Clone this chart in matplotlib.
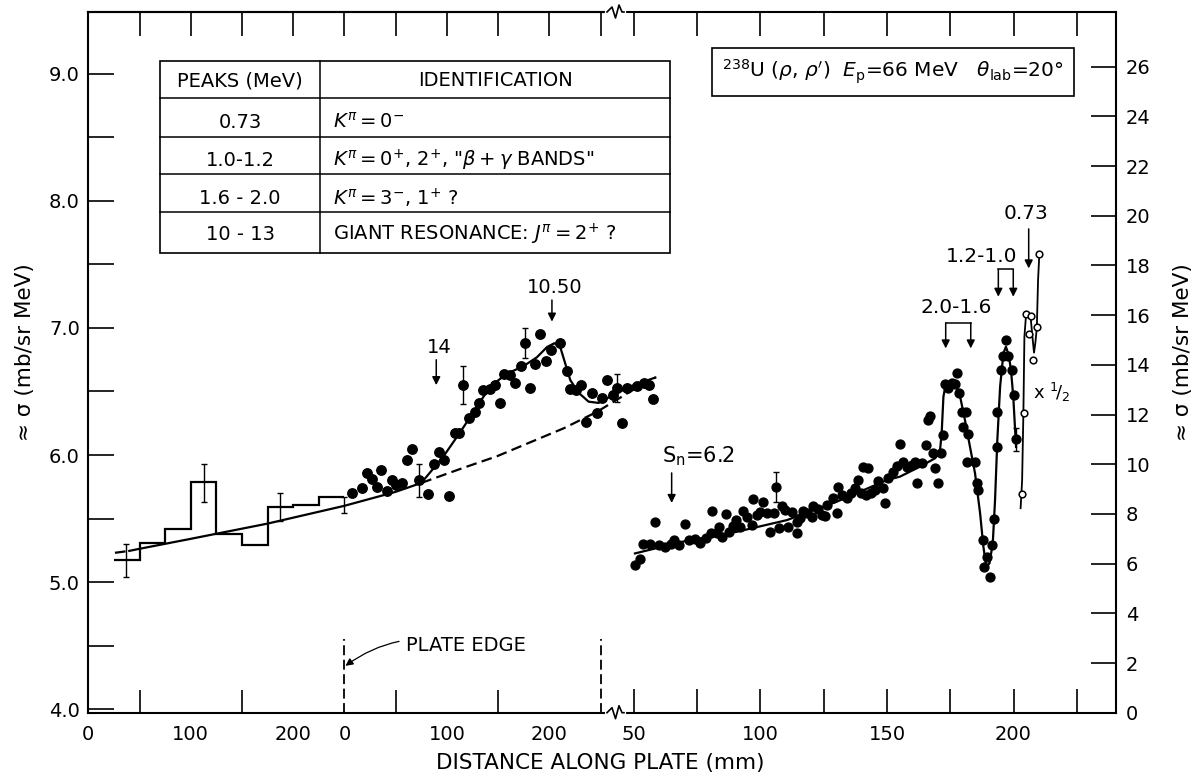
import matplotlib
matplotlib.use("Agg")
import matplotlib.pyplot as plt
from matplotlib.lines import Line2D
from matplotlib.patches import Rectangle

plt.rcParams["font.family"] = ["DejaVu Sans"]
plt.rcParams["mathtext.fontset"] = "dejavusans"

# ---------------- data ----------------
# left part: first plate (histogram) and second plate (dots), left axis units
hist_edges = [25, 50, 75, 100, 125, 150, 175, 200, 225, 250]
hist_vals = [5.17, 5.31, 5.42, 5.79, 5.38, 5.29, 5.59, 5.61, 5.67]
hist_err_x = [37.2, 112.8, 187.0, 250.0]
hist_err_y = [5.17, 5.78, 5.59, 5.605]
hist_err = [0.13, 0.15, 0.11, 0.065]

left_x = [257.2, 267.6, 271.9, 277.3, 281.6, 285.8, 292.0, 296.3, 300.5, 306.1,
          311.5, 316.4, 323.2, 332.0, 337.6, 341.8, 346.7, 351.6, 358.1, 362.0,
          365.6, 371.8, 377.0, 381.8, 385.7, 391.6, 397.2, 401.4, 406.0, 411.8,
          416.7, 422.6, 426.5, 431.3, 436.2, 441.1, 447.0, 451.6, 460.6, 467.2,
          470.4, 476.3, 480.9, 486.0, 491.6, 496.5, 501.4, 506.3, 512.1, 516.0,
          520.9, 525.8, 535.5, 542.0, 546.9, 551.2]
left_y = [5.70, 5.74, 5.86, 5.81, 5.75, 5.88, 5.72, 5.80, 5.76, 5.78,
          5.96, 6.05, 5.80, 5.69, 5.93, 6.02, 5.96, 5.68, 6.17, 6.17,
          6.55, 6.29, 6.34, 6.41, 6.51, 6.52, 6.55, 6.41, 6.64, 6.63,
          6.57, 6.70, 6.88, 6.53, 6.72, 6.95, 6.74, 6.83, 6.88, 6.66,
          6.52, 6.51, 6.55, 6.26, 6.49, 6.33, 6.45, 6.59, 6.47, 6.53,
          6.25, 6.53, 6.54, 6.57, 6.55, 6.44]
left_err_x = [323.2, 365.6, 426.5, 516.0]
left_err_y = [5.80, 6.55, 6.88, 6.53]
left_err = [0.13, 0.15, 0.12, 0.11]

bg_start_x = [26, 40]
bg_start_y = [5.23, 5.245]
bg_solid_x = [40, 49, 100, 125, 175, 250, 300, 325]
bg_solid_y = [5.245, 5.26, 5.34, 5.38, 5.46, 5.60, 5.71, 5.78]
bg_dash_x = [325, 366.4, 398.8, 431.3, 463.9, 496.5, 529.0, 553.4]
bg_dash_y = [5.78, 5.90, 5.99, 6.10, 6.21, 6.34, 6.50, 6.61]

gr_fit_x = [325, 346.7, 363.0, 379.3, 392.3, 408.6, 424.8, 437.9, 447.7, 454.8,
            460.6, 465.5, 470.4, 478.5, 488.3, 498.0, 509.5, 519.2, 529.0, 553.4]
gr_fit_y = [5.78, 5.99, 6.18, 6.38, 6.54, 6.64, 6.70, 6.77, 6.85, 6.88,
            6.85, 6.72, 6.59, 6.49, 6.42, 6.41, 6.46, 6.50, 6.54, 6.61]

# right part: third plate, right axis units
right_x = [50.4, 52.4, 53.7, 56.3, 58.3, 60.0, 62.3, 64.5, 65.8, 67.9,
           70.2, 71.9, 74.1, 76.1, 78.5, 80.7, 80.3, 82.7, 83.7, 84.7,
           86.4, 87.7, 89.2, 90.3, 91.9, 93.0, 94.5, 96.5, 96.9, 98.5,
           99.8, 100.9, 102.5, 103.8, 105.3, 106.1, 107.4, 108.4, 109.7, 111.0,
           112.3, 114.3, 114.3, 115.6, 116.7, 118.3, 120.2, 120.9, 122.8, 124.2,
           125.5, 126.4, 128.5, 130.1, 130.8, 132.1, 134.1, 135.7, 137.4, 138.7,
           139.6, 140.6, 141.7, 142.6, 143.6, 145.3, 146.6, 148.5, 149.2, 150.5,
           152.5, 154.1, 155.1, 156.4, 158.0, 159.8, 161.1, 161.7]
right_y = [5.94, 6.17, 6.79, 6.79, 7.69, 6.75, 6.68, 6.78, 6.95, 6.75,
           7.59, 6.95, 6.98, 6.84, 7.02, 8.12, 7.24, 7.24, 7.48, 7.08,
           7.98, 7.28, 7.51, 7.75, 7.48, 8.13, 7.89, 7.55, 8.60, 7.96,
           8.09, 8.49, 8.02, 7.28, 8.02, 9.09, 7.42, 8.32, 8.16, 7.48,
           8.09, 7.22, 7.69, 7.82, 8.13, 8.02, 7.89, 8.32, 8.19, 7.96,
           7.92, 8.36, 8.63, 8.05, 9.09, 8.76, 8.63, 8.83, 9.03, 9.36,
           8.83, 9.88, 8.76, 9.83, 8.83, 8.96, 9.34, 9.03, 8.43, 9.43,
           9.70, 9.93, 10.81, 10.10, 9.88, 9.97, 10.10, 9.23]
peak_x = [163.7, 165.4, 166.1, 167.0, 168.1, 169.0, 170.3, 171.2, 172.0, 172.9,
          174.2, 175.6, 176.9, 177.5, 178.6, 179.5, 181.2, 179.9, 182.1, 181.7,
          184.8, 185.5, 186.1, 187.8, 188.3, 189.4, 190.7, 191.4, 192.3, 193.4,
          193.6, 194.9, 196.0, 197.0, 197.9, 199.3, 200.2, 201.0]
peak_y = [10.04, 10.77, 11.78, 11.94, 10.44, 9.83, 9.23, 10.46, 11.18, 13.23,
          13.05, 13.26, 13.23, 13.68, 12.85, 12.11, 12.11, 11.51, 11.22, 10.10,
          10.10, 9.23, 8.96, 6.95, 5.88, 6.28, 5.47, 6.75, 7.78, 10.68,
          12.11, 13.79, 14.35, 15.00, 14.35, 13.79, 12.78, 11.00]
right_err_x = [106.1, 201.0]
right_err_y = [9.09, 11.00]
right_err = [0.60, 0.45]

right_fit_x = [50.4, 70.8, 90.6, 110.4, 130.1, 149.9, 155.1, 163.0, 169.0, 170.9,
               171.6, 172.3, 173.3, 175.6, 177.3, 178.9, 180.8, 182.8, 184.8, 186.8,
               188.1, 189.2, 190.5, 191.8, 192.7, 193.6, 194.7, 196.0, 197.0, 198.1,
               199.0, 199.9, 201.0]
right_fit_y = [6.41, 6.92, 7.28, 7.75, 8.49, 9.36, 9.50, 9.90, 10.24, 10.50,
               11.24, 12.72, 13.26, 13.32, 13.19, 12.72, 11.78, 10.70, 9.63, 8.02,
               6.68, 5.88, 6.01, 6.82, 8.56, 10.97, 13.12, 14.46, 14.73, 14.39,
               13.79, 12.72, 10.70]

# ground-state region, plotted x 1/2 (open circles)
half_x = [203.2, 204.2, 204.8, 206.8, 206.1, 207.8, 209.2, 210.2]
half_y = [8.80, 12.05, 16.03, 15.96, 15.24, 14.19, 15.53, 18.46]
half_fit_x = [202.8, 203.4, 203.9, 204.3, 204.9, 205.8, 206.8, 207.6, 208.1, 208.6,
              209.2, 209.7, 210.2]
half_fit_y = [8.23, 9.36, 12.05, 15.13, 15.94, 16.07, 15.87, 15.00, 14.49, 14.86,
              15.47, 17.41, 18.46]

table_peaks = ["PEAKS (MeV)", "0.73", "1.0-1.2", "1.6 - 2.0", "10 - 13"]
table_ident = ["IDENTIFICATION",
               r"$K^{\pi}=0^{-}$",
               r'$K^{\pi}=0^{+}$, $2^{+}$, "$\beta+\gamma$ BANDS"',
               r"$K^{\pi}=3^{-}$, $1^{+}$ ?",
               r"GIANT RESONANCE: $J^{\pi}=2^{+}$ ?"]

# ---------------- layout (pixel positions of the frame) ----------------
W, H = 1198, 775


def fxy(px, py):
    return px / W, 1 - py / H


x_left, x_break, x_right = 88.3, 617, 1116
y_top, y_bot = 12, 712.7
FS = 14

fig = plt.figure(figsize=(W / 100, H / 100), dpi=100)
axA = fig.add_axes([x_left / W, 1 - y_bot / H, (x_break - x_left) / W, (y_bot - y_top) / H])
axB = fig.add_axes([x_break / W, 1 - y_bot / H, (x_right - x_break) / W, (y_bot - y_top) / H])
axB.patch.set_alpha(0)

for ax in (axA, axB):
    for s in ax.spines.values():
        s.set_linewidth(1.5)
axA.spines["right"].set_visible(False)
axB.spines["left"].set_visible(False)

axA.set_xlim(0, 516)
axA.set_ylim(3.971, 9.488)
axB.set_xlim(43.3, 240.5)
axB.set_ylim(0, 28.2)

# left y axis
axA.set_yticks([4, 5, 6, 7, 8, 9], labels=["4.0", "5.0", "6.0", "7.0", "8.0", "9.0"])
axA.set_yticks([4.5, 5.5, 6.5, 7.5, 8.5], minor=True)
axA.tick_params(axis="y", which="both", direction="in", length=18.5, width=1.2,
                labelsize=FS, pad=6)

# bottom x axis of the two first plates
axA.set_xticks([0, 100, 200, 250, 350, 450], labels=["0", "100", "200", "0", "100", "200"])
axA.set_xticks([50, 100, 150, 200, 300, 350, 400, 450], minor=True)
axA.tick_params(axis="x", which="major", length=0, labelsize=FS, pad=9)
axA.tick_params(axis="x", which="minor", direction="in", length=16.5, width=1.2)
secA = axA.secondary_xaxis("top")
secA.set_xticks([50, 100, 150, 200, 250, 300, 350, 400, 450, 500], labels=[""] * 10)
secA.tick_params(direction="in", length=17.5, width=1.2)
secA.spines["top"].set_linewidth(1.5)

# third plate x axis, right y axis
axB.set_xticks([50, 100, 150, 200])
axB.set_xticks([75, 125, 175, 225], minor=True)
axB.tick_params(axis="x", which="both", direction="in", length=17, width=1.2,
                top=True, labelsize=FS, pad=9)
axB.yaxis.tick_right()
axB.set_yticks(range(0, 27, 2))
axB.tick_params(axis="y", direction="in", length=18, width=1.2, left=False,
                right=True, labelright=True, labelleft=False, labelsize=FS, pad=7)

# ---------------- left data ----------------
axA.stairs(hist_vals, hist_edges, baseline=None, color="k", lw=1.6)
axA.errorbar(hist_err_x, hist_err_y, yerr=hist_err, fmt="none", ecolor="k",
             elinewidth=1.0, capsize=2)
axA.plot(bg_start_x, bg_start_y, color="k", lw=1.6, ls=(0, (4.8, 2.4)))
axA.plot(bg_solid_x, bg_solid_y, color="k", lw=1.6)
axA.plot(bg_dash_x, bg_dash_y, color="k", lw=1.6, ls=(0, (4.8, 2.4)), clip_on=False)
axA.plot(gr_fit_x, gr_fit_y, color="k", lw=1.6, clip_on=False)
axA.errorbar(left_err_x, left_err_y, yerr=left_err, fmt="none", ecolor="k",
             elinewidth=1.0, capsize=2, clip_on=False)
axA.plot(left_x, left_y, "o", color="k", ms=6.8, clip_on=False)

# plate edges
axA.vlines([250, 500], 3.971, 4.55, colors="k", lw=1.3, linestyles=(0, (5.5, 2.5)))

# ---------------- right data ----------------
axB.plot(right_fit_x, right_fit_y, color="k", lw=1.6)
axB.errorbar(right_err_x, right_err_y, yerr=right_err, fmt="none", ecolor="k",
             elinewidth=1.0, capsize=2)
axB.plot(right_x, right_y, "o", color="k", ms=6.4)
axB.plot(peak_x, peak_y, "o", color="k", ms=6.4)
axB.plot(half_fit_x, half_fit_y, color="k", lw=1.3)
axB.plot(half_x, half_y, "o", mfc="white", mec="k", mew=1.1, ms=4.8)

# ---------------- annotations ----------------
arrow_kw = dict(arrowstyle="-|>", color="k", lw=1.1, mutation_scale=12, shrinkA=0, shrinkB=0)


def down_arrow(ax, x, y0, y1):
    ax.annotate("", xy=(x, y1), xytext=(x, y0), arrowprops=arrow_kw, annotation_clip=False)


axA.text(342.5, 6.85, "14", ha="center", va="center", fontsize=FS)
down_arrow(axA, 339.6, 6.75, 6.55)
axA.text(455.6, 7.315, "10.50", ha="center", va="center", fontsize=FS)
down_arrow(axA, 452.5, 7.22, 7.05)
axA.annotate("PLATE EDGE", xy=(251, 4.34), xytext=(310, 4.50), fontsize=FS,
             ha="left", va="center",
             arrowprops=dict(arrowstyle="-|>", color="k", lw=0.9, mutation_scale=11,
                             shrinkA=3, shrinkB=0, connectionstyle="arc3,rad=0.25"))

axB.text(60.9, 10.33, r"S$_\mathregular{n}$=6.2", ha="left", va="center", fontsize=15)
down_arrow(axB, 64.9, 9.65, 8.44)

axB.text(177.4, 16.29, "2.0-1.6", ha="center", va="center", fontsize=14.5)
axB.plot([173.2, 183.1], [15.69, 15.69], color="k", lw=1.1)
down_arrow(axB, 173.2, 15.69, 14.66)
down_arrow(axB, 183.1, 15.69, 14.66)

axB.text(187.4, 18.38, "1.2-1.0", ha="center", va="center", fontsize=14.5)
axB.plot([194.0, 199.9], [17.84, 17.84], color="k", lw=1.1)
down_arrow(axB, 194.0, 17.84, 16.74)
down_arrow(axB, 199.9, 17.84, 16.74)

axB.text(205.1, 20.10, "0.73", ha="center", va="center", fontsize=14.5)
down_arrow(axB, 206.0, 19.47, 17.88)
axB.text(215.0, 12.87, r"x $^{1}\!/_{2}$", ha="center", va="center", fontsize=13)

# axis labels
fig.text(*fxy(600, 763), "DISTANCE ALONG PLATE (mm)", ha="center", va="center", fontsize=15.5)
fig.text(*fxy(25, 352), "≈ σ (mb/sr MeV)", rotation=90, ha="center", va="center", fontsize=15.5)
fig.text(*fxy(1183, 352), "≈ σ (mb/sr MeV)", rotation=90, ha="center", va="center", fontsize=15.5)

# axis breaks
for yb in (y_bot, y_top):
    fig.add_artist(Line2D([607 / W, 624 / W], [1 - yb / H] * 2, transform=fig.transFigure,
                          color="white", lw=3, zorder=5))
    zx = [607, 612, 615.5, 619, 622, 624]
    zy = [yb, yb - 5, yb + 6, yb - 7, yb, yb]
    fig.add_artist(Line2D([x / W for x in zx], [1 - y / H for y in zy],
                          transform=fig.transFigure, color="k", lw=1.2, zorder=6))

# reaction box
bx0, bx1, by0, by1 = 712, 1074, 47.7, 95.7
fig.add_artist(Rectangle(fxy(bx0, by1), (bx1 - bx0) / W, (by1 - by0) / H,
                         transform=fig.transFigure, fill=False, ec="k", lw=1.2))
fig.text(*fxy((bx0 + bx1) / 2, 72),
         r"$^{238}$U ($\rho$, $\rho'$)  $E_\mathrm{p}$=66 MeV   $\theta_\mathrm{lab}$=20°",
         ha="center", va="center", fontsize=14.5)

# table
tx0, tcol, tx1 = 160, 320, 670
trows = [61, 98.3, 136.7, 174, 211.7, 253]
fig.add_artist(Rectangle(fxy(tx0, trows[-1]), (tx1 - tx0) / W, (trows[-1] - trows[0]) / H,
                         transform=fig.transFigure, fill=False, ec="k", lw=1.2))
for r in trows[1:-1]:
    fig.add_artist(Line2D([tx0 / W, tx1 / W], [1 - r / H] * 2, transform=fig.transFigure,
                          color="k", lw=1.1))
fig.add_artist(Line2D([tcol / W] * 2, [1 - trows[0] / H, 1 - trows[-1] / H],
                      transform=fig.transFigure, color="k", lw=1.1))
text_y = [81, 122, 160, 198, 234]
for i, (pk, ident) in enumerate(zip(table_peaks, table_ident)):
    fig.text(*fxy((tx0 + tcol) / 2, text_y[i]), pk, ha="center", va="center", fontsize=FS)
    if i == 0:
        fig.text(*fxy((tcol + tx1) / 2, text_y[i]), ident, ha="center", va="center", fontsize=FS)
    else:
        fig.text(*fxy(333, text_y[i]), ident, ha="left", va="center", fontsize=FS)

fig.savefig("out.png", dpi=100)
